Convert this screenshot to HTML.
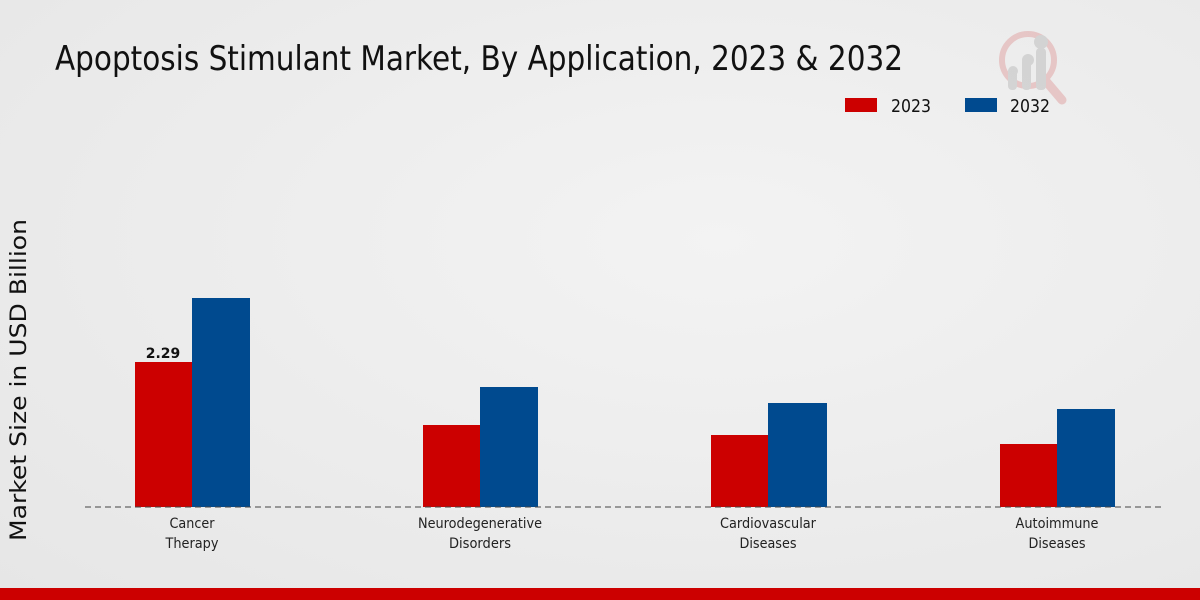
<!DOCTYPE html>
<html><head><meta charset="utf-8"><style>
html,body{margin:0;padding:0;width:1200px;height:600px;overflow:hidden}
body{background:radial-gradient(ellipse at 60% 40%,#f3f3f3 0%,#e6e6e6 100%);}
svg{display:block;font-family:"DejaVu Sans","Liberation Sans",sans-serif}
</style></head><body>
<svg width="1200" height="600" xmlns="http://www.w3.org/2000/svg">
<text x="55" y="70" font-size="34" fill="#111" textLength="848" lengthAdjust="spacingAndGlyphs">Apoptosis Stimulant Market, By Application, 2023 &amp; 2032</text>
<g opacity="0.5">
<circle cx="1028" cy="60" r="26" fill="none" stroke="#e0a0a0" stroke-width="6"/>
<line x1="1045" y1="80" x2="1062" y2="100" stroke="#e0a0a0" stroke-width="9" stroke-linecap="round"/>
<rect x="1008" y="68" width="9" height="22" rx="4" fill="#bbb"/>
<rect x="1022" y="58" width="9" height="32" rx="4" fill="#bbb"/>
<rect x="1036" y="48" width="10" height="42" rx="4" fill="#bbb"/>
<circle cx="1013" cy="71" r="5" fill="#bbb"/><circle cx="1028" cy="60" r="6" fill="#bbb"/><circle cx="1041" cy="42" r="7" fill="#bbb"/>
</g>
<rect x="845" y="98" width="32" height="14" fill="#cc0000"/>
<text x="891" y="112" font-size="18" fill="#111" textLength="40" lengthAdjust="spacingAndGlyphs">2023</text>
<rect x="965" y="98" width="32" height="14" fill="#004a8f"/>
<text x="1010" y="112" font-size="18" fill="#111" textLength="40" lengthAdjust="spacingAndGlyphs">2032</text>
<text transform="translate(26,380) rotate(-90)" text-anchor="middle" font-size="22" fill="#111" textLength="322" lengthAdjust="spacingAndGlyphs">Market Size in USD Billion</text>
<g>
<rect x="135" y="362" width="57" height="145" fill="#cc0000"/>
<rect x="192" y="298" width="58" height="209" fill="#004a8f"/>
<rect x="423" y="425" width="57" height="82" fill="#cc0000"/>
<rect x="480" y="387" width="58" height="120" fill="#004a8f"/>
<rect x="711" y="435" width="57" height="72" fill="#cc0000"/>
<rect x="768" y="403" width="59" height="104" fill="#004a8f"/>
<rect x="1000" y="444" width="57" height="63" fill="#cc0000"/>
<rect x="1057" y="409" width="58" height="98" fill="#004a8f"/>
</g>
<text x="163" y="358" text-anchor="middle" font-size="14" font-weight="bold" fill="#111">2.29</text>
<line x1="85" y1="507" x2="1165" y2="507" stroke="#444" stroke-width="1" stroke-dasharray="6,4"/>
<g font-size="14" fill="#222" text-anchor="middle" lengthAdjust="spacingAndGlyphs">
<text x="192" y="528" textLength="45" lengthAdjust="spacingAndGlyphs">Cancer</text><text x="192" y="548" textLength="53" lengthAdjust="spacingAndGlyphs">Therapy</text>
<text x="480" y="528" textLength="124" lengthAdjust="spacingAndGlyphs">Neurodegenerative</text><text x="480" y="548" textLength="62" lengthAdjust="spacingAndGlyphs">Disorders</text>
<text x="768" y="528" textLength="96" lengthAdjust="spacingAndGlyphs">Cardiovascular</text><text x="768" y="548" textLength="57" lengthAdjust="spacingAndGlyphs">Diseases</text>
<text x="1057" y="528" textLength="83" lengthAdjust="spacingAndGlyphs">Autoimmune</text><text x="1057" y="548" textLength="57" lengthAdjust="spacingAndGlyphs">Diseases</text>
</g>
<rect x="0" y="588" width="1200" height="12" fill="#cc0000"/>
</svg>
</body></html>
